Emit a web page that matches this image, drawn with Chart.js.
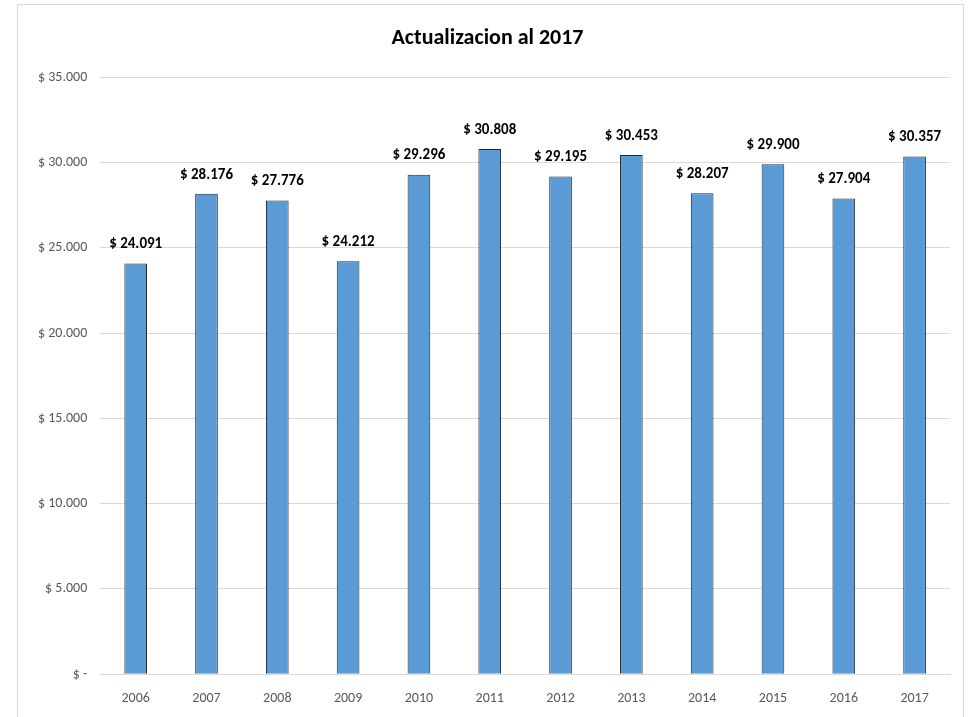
<!DOCTYPE html>
<html>
<head>
<meta charset="utf-8">
<script src="https://cdn.jsdelivr.net/npm/chart.js@4.4.0/dist/chart.umd.min.js"></script>
<style>
  html, body { margin: 0; padding: 0; background: #fff; }
  #frame { position: absolute; left: 17px; top: 4px; width: 945px; height: 720px; border: 1px solid #d9d9d9; }
  #wrap { position: absolute; left: 0; top: 0; width: 971px; height: 717px; }
</style>
</head>
<body>
<div id="frame"></div>
<div id="wrap"><canvas id="myChart"></canvas></div>
<script>
const years = ["2006", "2007", "2008", "2009", "2010", "2011", "2012", "2013", "2014", "2015", "2016", "2017"];
const values = [24091, 28176, 27776, 24212, 29296, 30808, 29195, 30453, 28207, 29900, 27904, 30357];
const yTicks = [0, 5000, 10000, 15000, 20000, 25000, 30000, 35000];

const fontFamily = "Carlito, 'Liberation Sans Narrow', 'Open Sans', sans-serif";

function formatPeso(v) {
  if (v === 0) return "$ -";
  return "$ " + v.toLocaleString("de-DE");
}

// labels above every bar
const barLabels = {
  id: "barLabels",
  afterDatasetsDraw(chart) {
    const ctx = chart.ctx;
    const meta = chart.getDatasetMeta(0);
    ctx.save();
    ctx.font = "bold 15px " + fontFamily;
    ctx.fillStyle = "#000";
    ctx.textAlign = "center";
    ctx.textBaseline = "middle";
    meta.data.forEach((bar, i) => {
      ctx.fillText(formatPeso(values[i]), bar.x, bar.y - 19);
    });
    ctx.restore();
  },
};

const ctx = document.getElementById("myChart");

new Chart(ctx, {
  type: "bar",
  data: {
    labels: years,
    datasets: [
      {
        data: values,
        backgroundColor: "#5b9bd5",
        borderColor: "#1f2a36",
        borderWidth: 1,
        borderSkipped: "bottom",
        barPercentage: 0.32,
        categoryPercentage: 1,
      },
    ],
  },
  options: {
    responsive: true,
    maintainAspectRatio: false,
    animation: false,
    layout: {
      padding: { left: 25, right: 21, top: 10, bottom: 2 },
    },
    scales: {
      x: {
        grid: { display: false },
        border: { color: "#d9d9d9" },
        ticks: {
          color: "#595959",
          font: { family: fontFamily, size: 14 },
          padding: 8,
        },
      },
      y: {
        min: 0,
        max: 35000,
        afterBuildTicks(axis) {
          axis.ticks = yTicks.map((v) => ({ value: v }));
        },
        grid: { color: "#d9d9d9", drawTicks: false },
        border: { display: false },
        ticks: {
          color: "#595959",
          font: { family: fontFamily, size: 14 },
          padding: 13,
          callback: (v) => formatPeso(v),
        },
      },
    },
    plugins: {
      legend: { display: false },
      tooltip: { enabled: false },
      title: {
        display: true,
        text: "Actualizacion al 2017",
        color: "#000",
        font: { family: fontFamily, size: 22, weight: "bold" },
        padding: { top: 15, bottom: 26 },
      },
    },
  },
  plugins: [barLabels],
});
</script>
</body>
</html>
